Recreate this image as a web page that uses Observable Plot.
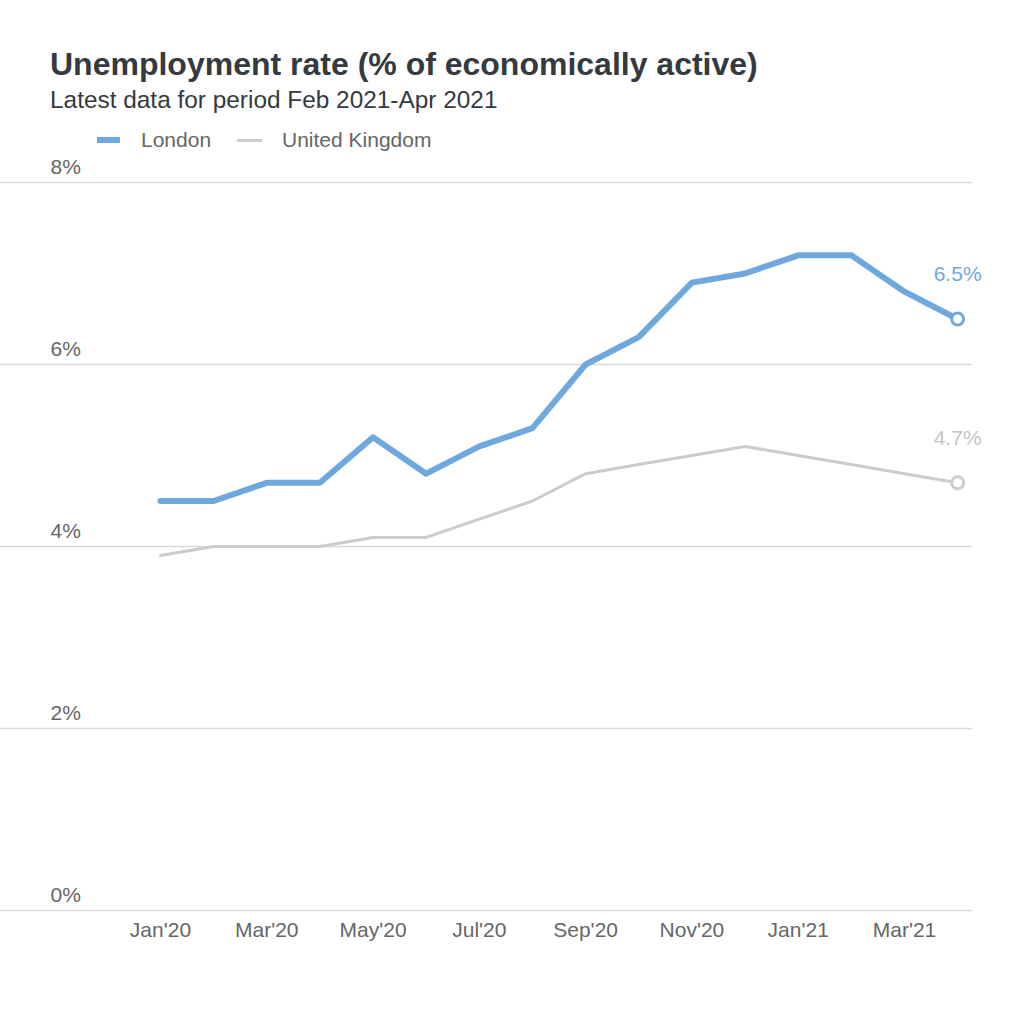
<!DOCTYPE html>
<html>
<head>
<meta charset="utf-8">
<script src="https://cdn.jsdelivr.net/npm/d3@7"></script>
<script src="https://cdn.jsdelivr.net/npm/@observablehq/plot@0.6"></script>
<style>
  html, body { margin: 0; padding: 0; background: #fff; }
  body { width: 1024px; height: 1024px; position: relative; overflow: hidden; font-family: "Liberation Sans", Arial, sans-serif; }
  .title { position: absolute; left: 50px; top: 48px; font-size: 32px; line-height: 32px; font-weight: bold; color: #343a40; white-space: nowrap; }
  .subtitle { position: absolute; left: 50px; top: 88px; font-size: 24.4px; line-height: 24px; color: #343a40; white-space: nowrap; }
  .legend { position: absolute; left: 0; top: 129px; height: 24px; width: 600px; font-size: 21px; line-height: 21px; color: #666; }
  .legend .sw { position: absolute; }
  .legend .lab { position: absolute; top: 0; white-space: nowrap; }
  #chart { position: absolute; left: 0; top: 160px; }
</style>
</head>
<body>
<div class="title">Unemployment rate (% of economically active)</div>
<div class="subtitle">Latest data for period Feb 2021-Apr 2021</div>
<div class="legend" id="legend"></div>
<div id="chart"></div>
<script>
const months = ["Jan'20","Feb'20","Mar'20","Apr'20","May'20","Jun'20","Jul'20","Aug'20","Sep'20","Oct'20","Nov'20","Dec'20","Jan'21","Feb'21","Mar'21","Apr'21"];
const london = [4.5, 4.5, 4.7, 4.7, 5.2, 4.8, 5.1, 5.3, 6.0, 6.3, 6.9, 7.0, 7.2, 7.2, 6.8, 6.5];
const uk = [3.9, 4.0, 4.0, 4.0, 4.1, 4.1, 4.3, 4.5, 4.8, 4.9, 5.0, 5.1, 5.0, 4.9, 4.8, 4.7];
const yTicks = [0, 2, 4, 6, 8];
const xTickIdx = [0, 2, 4, 6, 8, 10, 12, 14];
const seriesNames = ["London", "United Kingdom"];
const seriesColors = ["#6fa8dc", "#cccccc"];
const labelColors = ["#6fa8dc", "#c4c4c4"];

const rows = months.map((m, i) => ({i, month: m, london: london[i], uk: uk[i]}));
const last = [rows[rows.length - 1]];

// legend
const legend = document.getElementById("legend");
legend.innerHTML = `
  <div class="sw" style="left:97px;top:8px;width:23px;height:6px;background:${seriesColors[0]}"></div>
  <div class="lab" style="left:141px">${seriesNames[0]}</div>
  <div class="sw" style="left:237px;top:10px;width:25px;height:3px;background:${seriesColors[1]}"></div>
  <div class="lab" style="left:282px">${seriesNames[1]}</div>`;

const chart = Plot.plot({
  width: 1024,
  height: 840,
  marginLeft: 0,
  marginRight: 52,
  marginTop: 22,
  marginBottom: 90,
  style: { fontFamily: '"Liberation Sans", Arial, sans-serif', background: "#fff", overflow: "visible" },
  x: { type: "linear", domain: [-3.01, 15.28], axis: null },
  y: { domain: [0, 8], axis: null },
  marks: [
    Plot.ruleY(yTicks, { stroke: "#d9d9d9", strokeWidth: 1.5 }),
    Plot.text(yTicks, { y: d => d, text: d => d + "%", frameAnchor: "left", dx: 50, dy: -15, textAnchor: "start", fill: "#666", fontSize: 21 }),
    Plot.axisX({ ticks: xTickIdx, tickFormat: i => months[i], tickSize: 0, tickPadding: 12, fontSize: 21, color: "#666", label: null }),
    Plot.line(rows, { x: "i", y: "uk", stroke: seriesColors[1], strokeWidth: 3, strokeLinejoin: "round", strokeLinecap: "round" }),
    Plot.line(rows, { x: "i", y: "london", stroke: seriesColors[0], strokeWidth: 6, strokeLinejoin: "round", strokeLinecap: "round" }),
    Plot.dot(last, { x: "i", y: "uk", r: 6, fill: "#fff", stroke: seriesColors[1], strokeWidth: 3 }),
    Plot.dot(last, { x: "i", y: "london", r: 6, fill: "#fff", stroke: seriesColors[0], strokeWidth: 3 }),
    Plot.text(last, { x: "i", y: "uk", text: d => d.uk + "%", dy: -45, fill: labelColors[1], fontSize: 21 }),
    Plot.text(last, { x: "i", y: "london", text: d => d.london + "%", dy: -45, fill: labelColors[0], fontSize: 21 })
  ]
});
document.getElementById("chart").appendChild(chart);
</script>
</body>
</html>
